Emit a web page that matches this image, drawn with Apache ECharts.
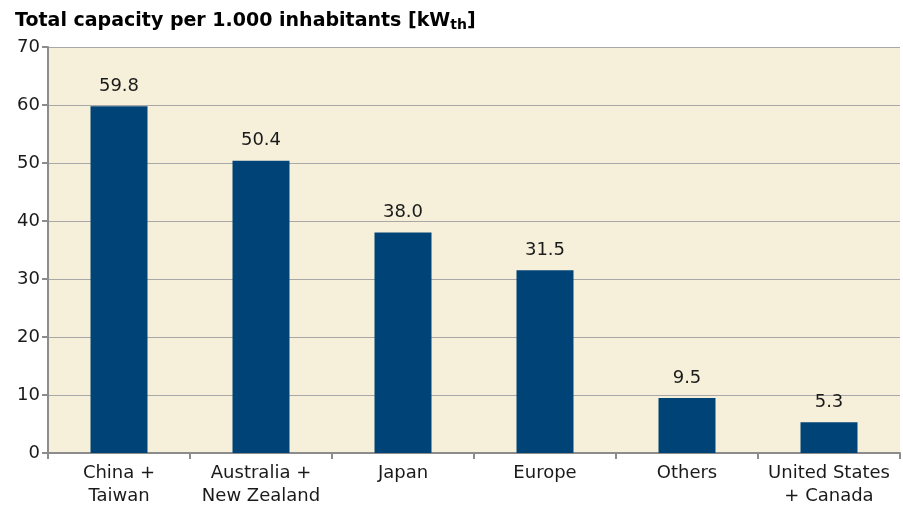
<!DOCTYPE html>
<html>
<head>
<meta charset="utf-8">
<script src="https://cdn.jsdelivr.net/npm/echarts@6/dist/echarts.min.js"></script>
<style>
  html, body { margin: 0; padding: 0; background: #ffffff; }
  #chart { width: 903px; height: 508px; }
</style>
</head>
<body>
<div id="chart"></div>
<script>
// categories along the x axis
var regions = ["China +\nTaiwan", "Australia +\nNew Zealand", "Japan", "Europe", "Others", "United States\n+ Canada"];
// kWth per 1.000 inhabitants
var capacity = [59.8, 50.4, 38.0, 31.5, 9.5, 5.3];

var chart = echarts.init(document.getElementById("chart"));
chart.setOption({
  animation: false,
  title: {
    text: "Total capacity per 1.000 inhabitants [kW{sub|th}]",
    left: 10,
    top: 6,
    textStyle: {
      fontFamily: "DejaVu Sans",
      fontWeight: "bold",
      fontSize: 19,
      color: "#000",
      rich: {
        sub: {
          fontFamily: "DejaVu Sans",
          fontWeight: "bold",
          fontSize: 14,
          color: "#000",
          verticalAlign: "bottom",
          padding: [7, 0, 0, 0],
        },
      },
    },
  },
  grid: {
    left: 48,
    right: 3,
    top: 47,
    bottom: 53,
    show: true,
    backgroundColor: "#F6F0DB",
    borderWidth: 0,
  },
  xAxis: {
    type: "category",
    data: regions,
    axisTick: { show: true, length: 6, lineStyle: { color: "#8c8c8c", width: 2 } },
    axisLine: { lineStyle: { color: "#8c8c8c", width: 2 } },
    axisLabel: {
      fontFamily: "DejaVu Sans",
      fontSize: 18,
      color: "#1a1a1a",
      margin: 9,
      lineHeight: 23,
      interval: 0,
    },
  },
  yAxis: {
    type: "value",
    min: 0,
    max: 70,
    interval: 10,
    axisLine: { show: true, lineStyle: { color: "#8c8c8c", width: 2 } },
    axisTick: { show: true, length: 6, lineStyle: { color: "#8c8c8c", width: 2 } },
    axisLabel: {
      fontFamily: "DejaVu Sans",
      fontSize: 18,
      color: "#1a1a1a",
      margin: 8,
    },
    splitLine: { show: true, lineStyle: { color: "#a8a8a8", width: 1 } },
  },
  series: [
    {
      type: "bar",
      data: capacity,
      barWidth: 57,
      itemStyle: { color: "#004477" },
      label: {
        show: true,
        position: "top",
        distance: 11,
        fontFamily: "DejaVu Sans",
        fontSize: 18,
        color: "#1a1a1a",
        formatter: function (p) {
          return p.value.toFixed(1);
        },
      },
    },
  ],
});
</script>
</body>
</html>
